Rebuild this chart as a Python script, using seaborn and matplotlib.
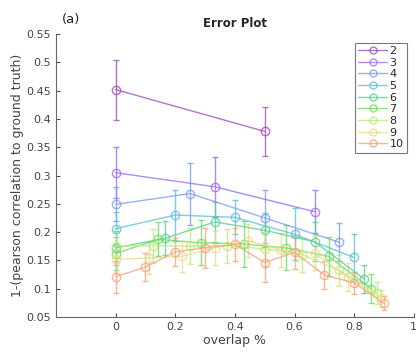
import matplotlib
matplotlib.use("Agg")
import matplotlib.pyplot as plt
from matplotlib.lines import Line2D
import seaborn as sns

# 每条曲线的数据（窗口数 -> 重叠率、误差均值、标准差）
labels = ["2", "3", "4", "5", "6", "7", "8", "9", "10"]

x2 = [0, 0.5]
y2 = [0.452, 0.378]
e2 = [0.053, 0.044]

x3 = [0, 0.333, 0.667]
y3 = [0.305, 0.280, 0.236]
e3 = [0.045, 0.053, 0.038]

x4 = [0, 0.25, 0.5, 0.75]
y4 = [0.249, 0.268, 0.225, 0.182]
e4 = [0.030, 0.055, 0.050, 0.034]

x5 = [0, 0.2, 0.4, 0.6, 0.8]
y5 = [0.206, 0.230, 0.226, 0.196, 0.155]
e5 = [0.030, 0.045, 0.030, 0.046, 0.042]

x6 = [0, 0.167, 0.333, 0.5, 0.667, 0.833]
y6 = [0.172, 0.189, 0.218, 0.203, 0.183, 0.117]
e6 = [0.030, 0.030, 0.035, 0.030, 0.035, 0.025]

x7 = [0, 0.143, 0.286, 0.429, 0.571, 0.714, 0.857]
y7 = [0.162, 0.187, 0.181, 0.179, 0.172, 0.157, 0.100]
e7 = [0.030, 0.030, 0.040, 0.040, 0.040, 0.035, 0.025]

x8 = [0, 0.125, 0.25, 0.375, 0.5, 0.625, 0.75, 0.875]
y8 = [0.175, 0.176, 0.175, 0.176, 0.170, 0.160, 0.132, 0.092]
e8 = [0.030, 0.030, 0.032, 0.030, 0.030, 0.030, 0.028, 0.020]

x9 = [0, 0.111, 0.222, 0.333, 0.444, 0.556, 0.667, 0.778, 0.889]
y9 = [0.152, 0.154, 0.157, 0.172, 0.185, 0.168, 0.163, 0.120, 0.083]
e9 = [0.025, 0.028, 0.028, 0.030, 0.030, 0.030, 0.030, 0.025, 0.015]

x10 = [0, 0.1, 0.2, 0.3, 0.4, 0.5, 0.6, 0.7, 0.8, 0.9]
y10 = [0.121, 0.138, 0.165, 0.172, 0.178, 0.146, 0.164, 0.124, 0.110, 0.074]
e10 = [0.028, 0.025, 0.025, 0.035, 0.030, 0.035, 0.030, 0.025, 0.020, 0.012]

xs = [x2, x3, x4, x5, x6, x7, x8, x9, x10]
ys = [y2, y3, y4, y5, y6, y7, y8, y9, y10]
es = [e2, e3, e4, e5, e6, e7, e8, e9, e10]

colors = ["#a050b8", "#9c6ef0", "#7f9cf2", "#5cc0d8", "#58d094",
          "#6edc5c", "#bdec78", "#e6dc8c", "#f8a47a"]

sns.set_style("ticks")
plt.rcParams["font.family"] = ["DejaVu Sans"]

fig = plt.figure(figsize=(4.18, 3.56), dpi=100)
ax = fig.add_axes([0.134, 0.110, 0.856, 0.794])

handles = []
for lab, x, y, e, c in zip(labels, xs, ys, es, colors):
    ax.errorbar(x, y, yerr=e, color=c, lw=1.0, marker="o", ms=6,
                mfc="none", mec=c, mew=1.0, capsize=2, elinewidth=1.0,
                alpha=0.8)
    handles.append(Line2D([], [], color=c, lw=1.0, marker="o", ms=5,
                          mfc="none", mec=c, mew=1.0, alpha=0.8, label=lab))

ax.set_xlim(-0.2, 1.0)
ax.set_ylim(0.05, 0.55)
ax.set_xticks([0, 0.2, 0.4, 0.6, 0.8, 1])
ax.set_xticklabels(["0", "0.2", "0.4", "0.6", "0.8", "1"])
ax.set_yticks([0.05, 0.1, 0.15, 0.2, 0.25, 0.3, 0.35, 0.4, 0.45, 0.5, 0.55])
ax.set_yticklabels(["0.05", "0.1", "0.15", "0.2", "0.25", "0.3", "0.35",
                    "0.4", "0.45", "0.5", "0.55"])
ax.tick_params(direction="in", length=3, labelsize=8, colors="#555555",
               labelcolor="#444444")
sns.despine(ax=ax)
for s in ["left", "bottom"]:
    ax.spines[s].set_color("#666666")

ax.set_xlabel("overlap %", fontsize=9, color="#444444", labelpad=2)
ax.set_ylabel("1-(pearson correlation to ground truth)", fontsize=9,
              color="#444444", labelpad=2)
ax.set_title("Error Plot", fontsize=8.5, fontweight="bold", pad=5)
fig.text(0.148, 0.935, "(a)", fontsize=9.5, color="#222222")

leg = ax.legend(handles=handles, loc="upper right",
                bbox_to_anchor=(0.98, 0.97), fontsize=8,
                handlelength=2.6, handletextpad=0.2, labelspacing=0.15,
                borderpad=0.3, borderaxespad=0, frameon=True, fancybox=False)
leg.get_frame().set_edgecolor("#555555")
leg.get_frame().set_linewidth(0.8)

fig.savefig("out.png", dpi=100)
